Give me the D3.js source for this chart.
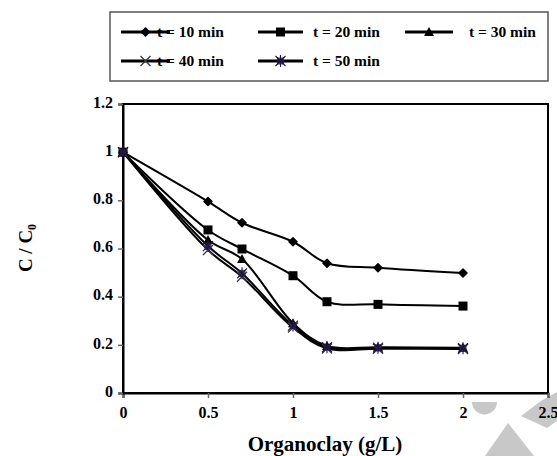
<!DOCTYPE html>
<html><head><meta charset="utf-8">
<script src="https://cdn.jsdelivr.net/npm/d3@7"></script>
<style>body{margin:0;background:#fff}svg{display:block}text{font-family:"Liberation Serif","Times New Roman",serif;font-weight:bold;fill:#000}</style>
</head><body>
<script>
const doses = [0, 0.5, 0.7, 1.0, 1.2, 1.5, 2.0];
const t10 = [1, 0.795, 0.707, 0.628, 0.539, 0.52, 0.498];
const t20 = [1, 0.677, 0.598, 0.487, 0.379, 0.368, 0.361];
const t30 = [1, 0.635, 0.556, 0.290, 0.195, 0.19, 0.188];
const t40 = [1, 0.594, 0.483, 0.272, 0.185, 0.184, 0.183];
const t50 = [1, 0.610, 0.497, 0.280, 0.19, 0.188, 0.186];
const seriesNames = ["t = 10 min", "t = 20 min", "t = 30 min", "t = 40 min", "t = 50 min"];
const seriesValues = [t10, t20, t30, t40, t50];
const xTicks = [0, 0.5, 1, 1.5, 2, 2.5];
const yTicks = [0, 0.2, 0.4, 0.6, 0.8, 1, 1.2];
const markerTypes = ["diamond", "square", "triangle", "x", "star"];

const W = 557, H = 456;
const svg = d3.select("body").append("svg").attr("width", W).attr("height", H);

// faint watermark shapes
const wm = svg.append("g").attr("fill", "#c8c8c8");
wm.append("path").attr("d", "M472,402 A12.5,12.5 0 0 0 497,402 Z");
wm.append("path").attr("d", "M485,456 L508,423 L534,456 Z");
wm.append("path").attr("d", "M521,416 L541,401 L557,392 L557,421 L547,428 Z");

const x = d3.scaleLinear().domain([0, 2.5]).range([123, 548]);
const y = d3.scaleLinear().domain([0, 1.2]).range([393, 104]);

// plot frame
svg.append("rect").attr("x", x(0)).attr("y", y(1.2)).attr("width", x(2.5) - x(0)).attr("height", y(0) - y(1.2))
  .attr("fill", "none").attr("stroke", "#000").attr("stroke-width", 2);

const fmt = d => (d === 0 ? "0" : String(d));
const xAxis = svg.append("g").attr("transform", `translate(0,${y(0)})`)
  .call(d3.axisBottom(x).tickValues(xTicks).tickFormat(fmt).tickSize(5).tickPadding(9));
const yAxis = svg.append("g").attr("transform", `translate(${x(0)},0)`)
  .call(d3.axisLeft(y).tickValues(yTicks).tickFormat(fmt).tickSize(5).tickPadding(5));
[xAxis, yAxis].forEach(a => {
  a.select(".domain").attr("stroke", "#000").attr("stroke-width", 2);
  a.selectAll(".tick line").attr("stroke", "#666").attr("stroke-width", 1.5);
  a.selectAll(".tick text").attr("font-size", 16).attr("font-family", "Liberation Serif").attr("font-weight", "bold").attr("fill", "#000");
});
yAxis.selectAll(".tick text").attr("dy", "0.2em");

// axis titles
svg.append("text").attr("x", 325).attr("y", 451).attr("text-anchor", "middle").attr("font-size", 21).text("Organoclay (g/L)");
const yt = svg.append("text").attr("transform", "translate(32,248) rotate(-90)").attr("text-anchor", "middle").attr("font-size", 19);
yt.append("tspan").text("C / C");
yt.append("tspan").attr("font-size", 12).attr("dy", 4).text("0");

// lines
const line = d3.line().x((d, i) => x(doses[i])).y(d => y(d)).curve(d3.curveCatmullRom.alpha(0.5));
const g = svg.append("g");
seriesValues.forEach(vals => {
  g.append("path").datum(vals).attr("d", line).attr("fill", "none").attr("stroke", "#000").attr("stroke-width", 2);
});

function drawMarker(sel, type, cx, cy) {
  if (type === "diamond") {
    sel.append("path").attr("d", `M${cx},${cy-4}L${cx+4},${cy}L${cx},${cy+4}L${cx-4},${cy}Z`).attr("fill", "#000").attr("stroke", "#000").attr("stroke-width", 1.5).attr("stroke-linejoin", "round");
  } else if (type === "square") {
    sel.append("rect").attr("x", cx - 4.5).attr("y", cy - 4.5).attr("width", 9).attr("height", 9).attr("fill", "#000");
  } else if (type === "triangle") {
    sel.append("path").attr("d", `M${cx},${cy-5}L${cx+5},${cy+4}L${cx-5},${cy+4}Z`).attr("fill", "#000");
  } else if (type === "x") {
    sel.append("path").attr("d", `M${cx-5},${cy-5}L${cx+5},${cy+5}M${cx+5},${cy-5}L${cx-5},${cy+5}`).attr("stroke", "#3a3a3a").attr("stroke-width", 1.3);
  } else if (type === "star") {
    sel.append("rect").attr("x", cx - 3.5).attr("y", cy - 3.5).attr("width", 7).attr("height", 7).attr("fill", "#2b1d55").attr("opacity", 0.8);
    sel.append("path").attr("d", `M${cx-5},${cy-5}L${cx+5},${cy+5}M${cx+5},${cy-5}L${cx-5},${cy+5}M${cx},${cy-6}L${cx},${cy+6}`).attr("stroke", "#1f1440").attr("stroke-width", 1.1);
  }
}

seriesValues.forEach((vals, si) => {
  const mg = svg.append("g");
  vals.forEach((v, i) => drawMarker(mg, markerTypes[si], x(doses[i]), y(v)));
});

// legend
const lg = svg.append("g");
lg.append("rect").attr("x", 110).attr("y", 12).attr("width", 438).attr("height", 69).attr("fill", "#fff").attr("stroke", "#555").attr("stroke-width", 1.5);
const legPos = [
  {x1: 121, x2: 170, tx: 157, y: 32},
  {x1: 258, x2: 303, tx: 313, y: 32},
  {x1: 405, x2: 453, tx: 469, y: 32},
  {x1: 121, x2: 170, tx: 157, y: 61},
  {x1: 258, x2: 303, tx: 313, y: 61}
];
seriesNames.forEach((name, i) => {
  const p = legPos[i];
  lg.append("line").attr("x1", p.x1).attr("x2", p.x2).attr("y1", p.y).attr("y2", p.y).attr("stroke", "#000").attr("stroke-width", 3);
  drawMarker(lg, markerTypes[i], (p.x1 + p.x2) / 2, p.y);
  lg.append("text").attr("x", p.tx).attr("y", p.y + 5).attr("font-size", 15.5).text(name);
});
</script>
</body></html>
